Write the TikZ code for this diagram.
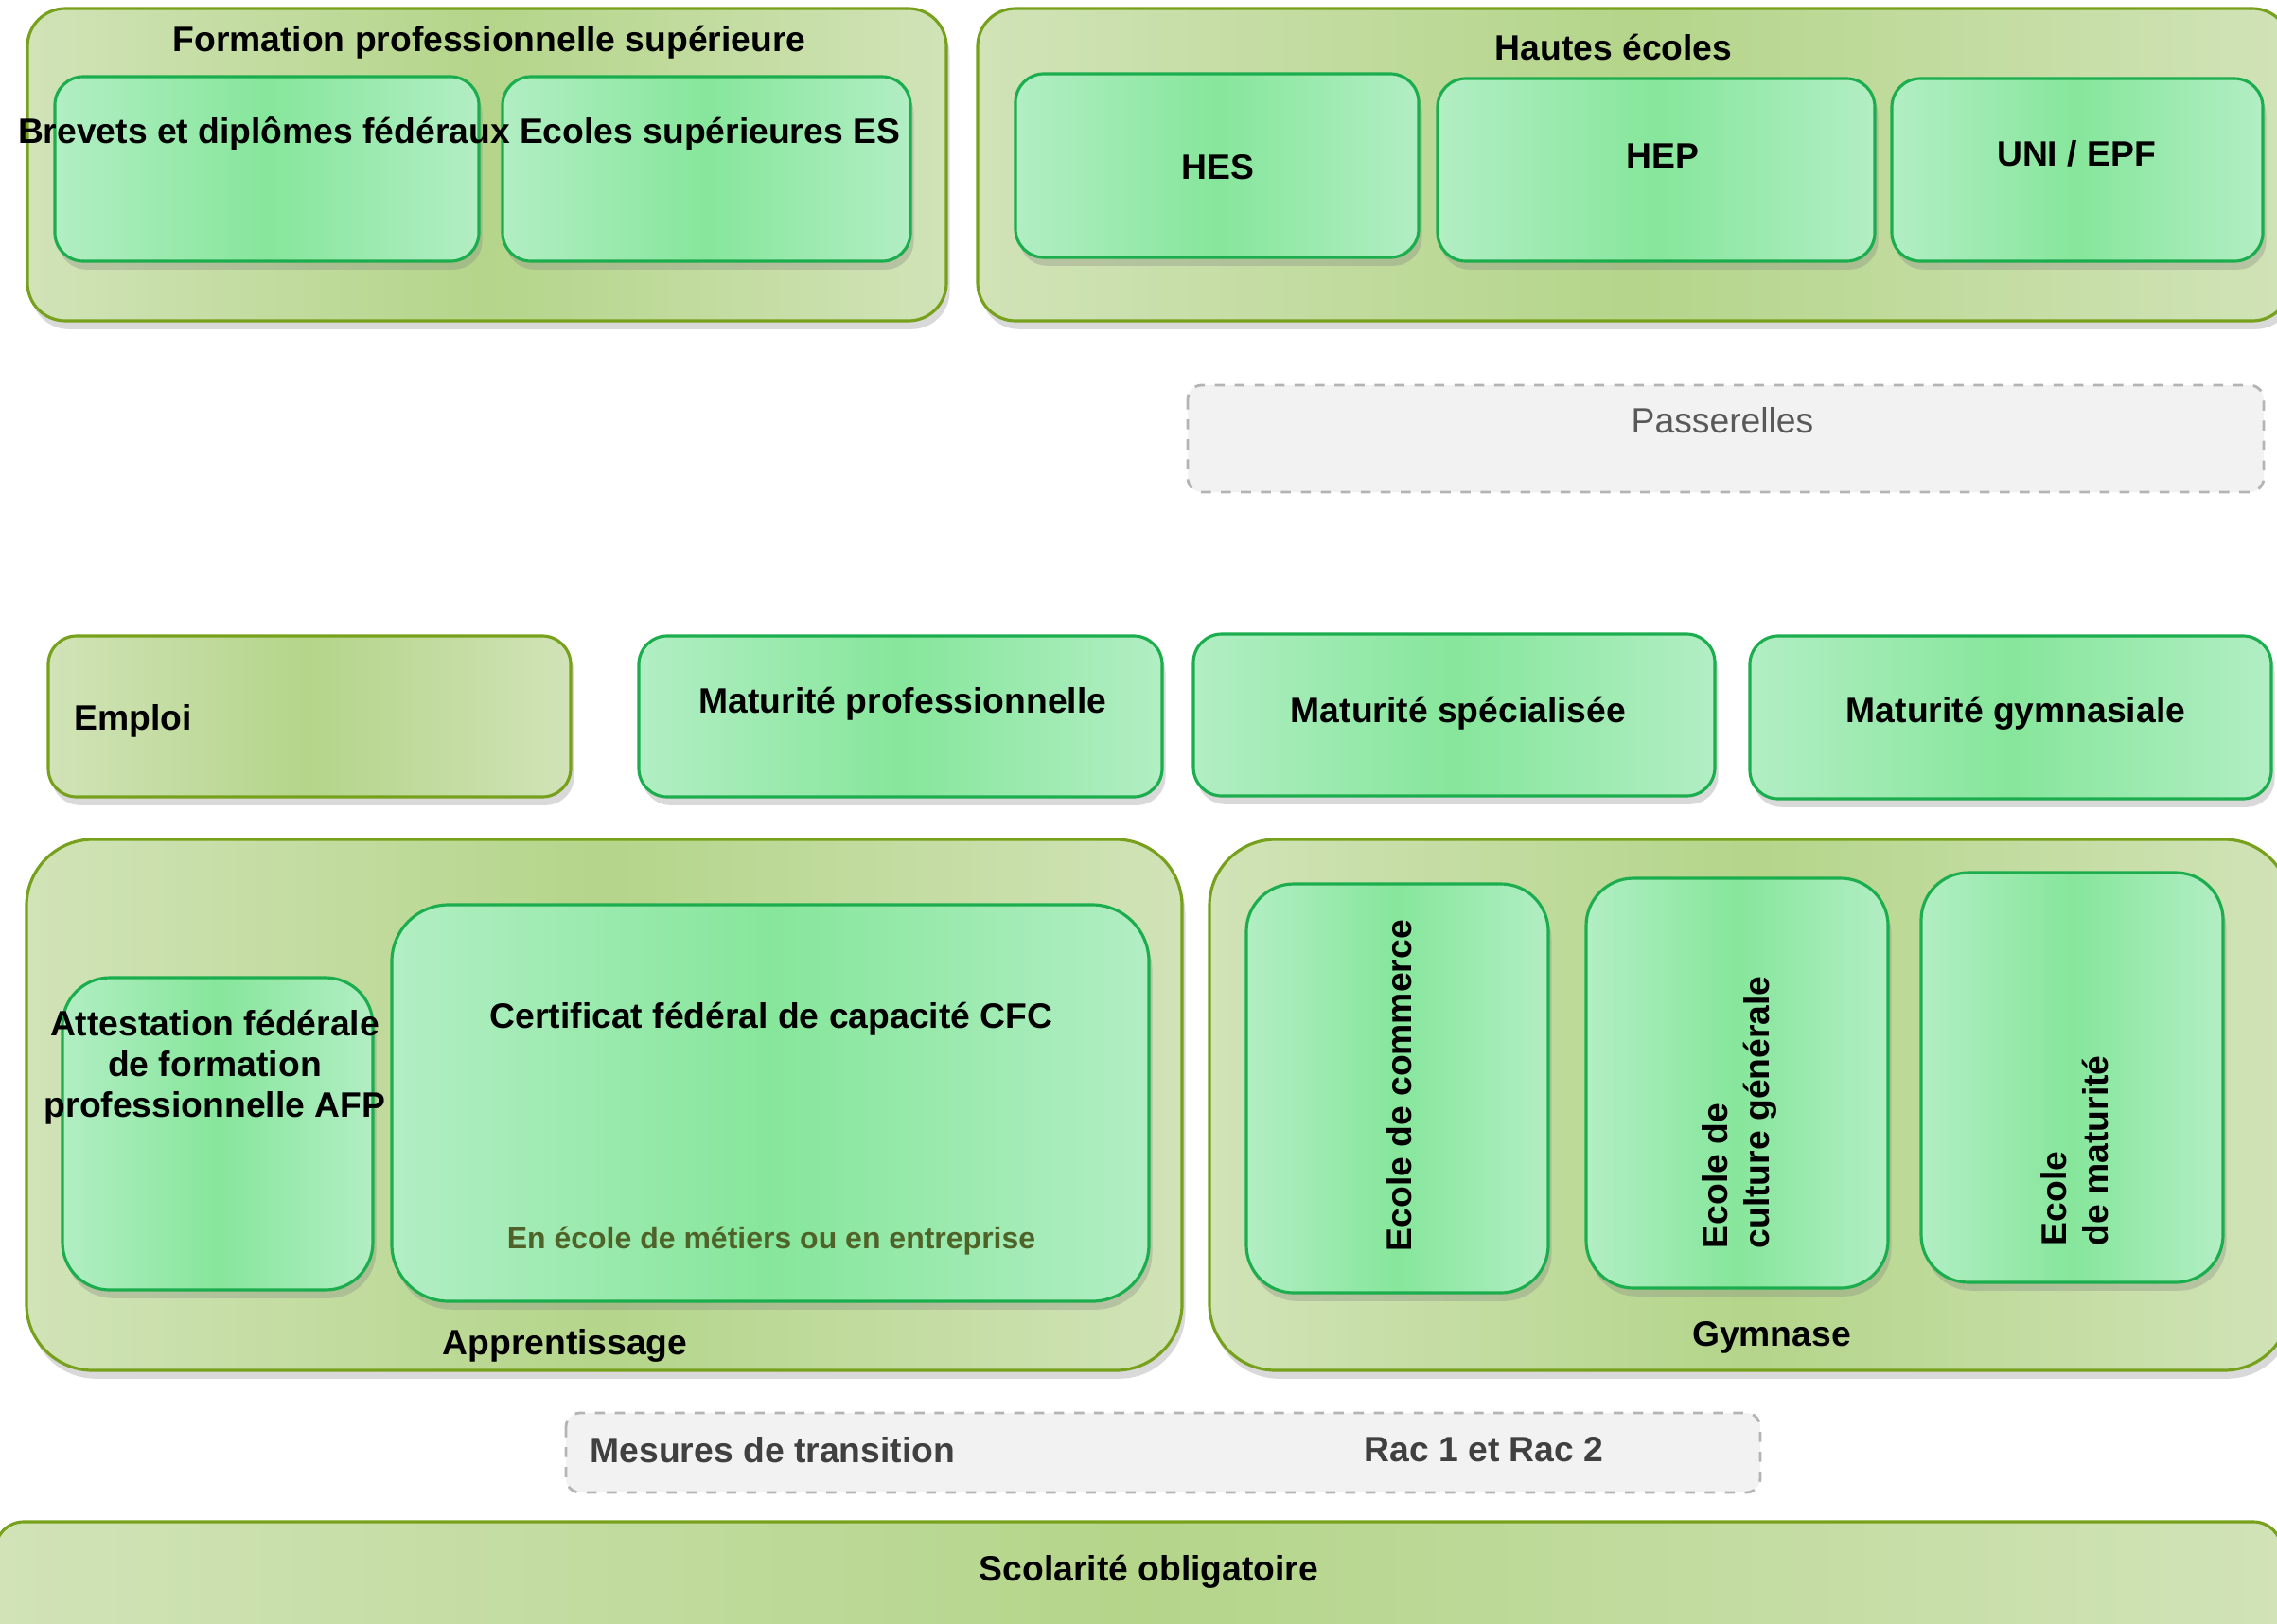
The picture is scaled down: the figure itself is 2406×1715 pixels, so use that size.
\documentclass[tikz,border=0pt]{standalone}
\usepackage{fontspec}
\setmainfont{Liberation Sans}
\usetikzlibrary{shadows}

\definecolor{olivebord}{HTML}{77A11C}
\definecolor{oliveclair}{HTML}{D1E3B7}
\definecolor{olivefonce}{HTML}{B4D58A}
\definecolor{vertbord}{HTML}{1CAE4E}
\definecolor{vertclair}{HTML}{B2EEC4}
\definecolor{vertfonce}{HTML}{86E69B}
\definecolor{grisbord}{HTML}{B4B4B4}
\definecolor{grisfond}{HTML}{F2F2F2}
\definecolor{gristexte}{HTML}{595959}
\definecolor{grisfonce}{HTML}{404040}
\definecolor{olivetexte}{HTML}{4F6228}

\begin{document}
\begin{tikzpicture}[x=0.01cm, y=-0.01cm,
    ombre/.style={drop shadow={shadow xshift=1pt, shadow yshift=-2.5pt, opacity=0.3}},
    palier/.style={draw=olivebord, line width=0.9pt, rounded corners=0.4cm, left color=oliveclair, right color=oliveclair, middle color=olivefonce, ombre},
    filiere/.style={draw=vertbord, line width=0.9pt, rounded corners=0.3cm, left color=vertclair, right color=vertclair, middle color=vertfonce, ombre},
    passage/.style={draw=grisbord, dashed, line width=0.8pt, rounded corners=0.15cm, fill=grisfond},
    texte/.style={font=\fontsize{10.6}{12.7}\selectfont\bfseries, inner sep=0pt},
    titre/.style={texte, yshift=-1.1pt},
    vertical/.style={texte, rotate=90, anchor=west, align=left}]
            % \draw[help lines] (0,0) grid[step=100] (2406,1715);
            \useasboundingbox (0,0) rectangle (2406,1715);

            % tertiaire
            \draw[palier] (29,9) rectangle (1000,339);
            \draw[filiere] (58,81) rectangle (506,276);
            \draw[filiere] (531,81) rectangle (962,276);
            \draw[palier] (1033,9) rectangle (2420,339);
            \draw[filiere] (1073,78) rectangle (1499,272);
            \draw[filiere] (1519,83) rectangle (1981,276);
            \draw[filiere] (1999,83) rectangle (2391,276);
            \draw[passage] (1255,407) rectangle (2392,520);

            \node[titre] (fps) at (517,41) {Formation professionnelle supérieure};
            \node[titre] (bdf) at (279,138) {Brevets et diplômes fédéraux};
            \node[titre] (es) at (750,138) {Ecoles supérieures ES};
            \node[titre] (he) at (1705,46) {Hautes écoles};
            \node[titre] (hes) at (1287,173) {HES};
            \node[titre] (hep) at (1757,161) {HEP};
            \node[titre] (uni) at (2194,158) {UNI / EPF};
            \node[titre, font=\fontsize{10.6}{12.7}\selectfont, text=gristexte] (pas) at (1820,440) {Passerelles};

            % maturites
            \draw[palier, rounded corners=0.3cm] (51,672) rectangle (603,842);
            \draw[filiere] (675,672) rectangle (1228,842);
            \draw[filiere] (1261,670) rectangle (1812,841);
            \draw[filiere] (1849,672) rectangle (2400,844);

            \node[titre, anchor=west] (emp) at (78,758) {Emploi};
            \node[titre] (mp) at (954,740) {Maturité professionnelle};
            \node[titre] (ms) at (1541,750) {Maturité spécialisée};
            \node[titre] (mg) at (2130,750) {Maturité gymnasiale};

            % secondaire II
            \draw[palier, rounded corners=0.7cm] (28,887) rectangle (1249,1448);
            \draw[filiere, rounded corners=0.5cm] (66,1033) rectangle (394,1363);
            \draw[filiere, rounded corners=0.6cm] (414,956) rectangle (1214,1375);
            \draw[palier, rounded corners=0.7cm] (1278,887) rectangle (2420,1448);
            \draw[filiere, rounded corners=0.5cm] (1317,934) rectangle (1636,1366);
            \draw[filiere, rounded corners=0.5cm] (1676,928) rectangle (1995,1361);
            \draw[filiere, rounded corners=0.5cm] (2030,922) rectangle (2349,1355);

            \node[titre] (app) at (597,1418) {Apprentissage};
            \node[titre, align=center, font=\fontsize{10.6}{12.2}\selectfont\bfseries] (afp) at (227,1124) {Attestation fédérale\\de formation\\professionnelle AFP};
            \node[titre] (cfc) at (815,1073) {Certificat fédéral de capacité CFC};
            \node[titre, font=\fontsize{9.1}{11}\selectfont\bfseries, text=olivetexte] (lieu) at (815,1307) {En école de métiers ou en entreprise};
            \node[titre] (gym) at (1872,1409) {Gymnase};
            \node[vertical] (ec) at (1478,1323) {Ecole de commerce};
            \node[vertical] (ecg) at (1838,1320) {Ecole de\\culture générale};
            \node[vertical] (em) at (2192,1317) {Ecole\\de maturité};

            % transition et obligatoire
            \draw[passage] (598,1493) rectangle (1860,1577);
            \node[titre, anchor=west, text=grisfonce] (mt) at (623,1528) {Mesures de transition};
            \node[titre, text=grisfonce] (rac) at (1568,1528) {Rac 1 et Rac 2};

            \draw[palier, rounded corners=0.3cm] (-5,1608) rectangle (2411,1760);
            \node[titre] (so) at (1214,1657) {Scolarité obligatoire};
        \end{tikzpicture}
\end{document}
